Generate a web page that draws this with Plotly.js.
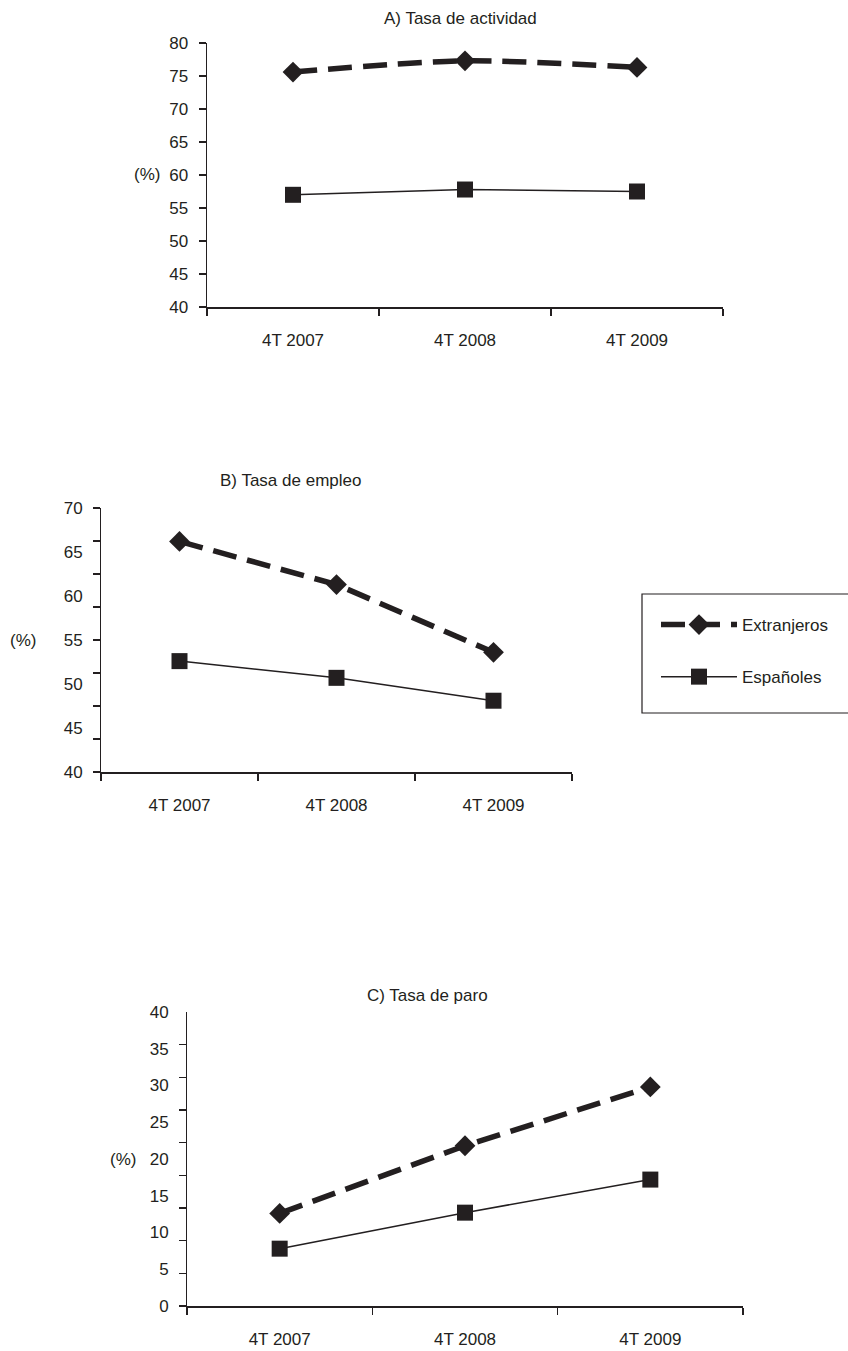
<!DOCTYPE html>
<html>
<head>
<meta charset="utf-8">
<script src="https://cdn.plot.ly/plotly-3.0.1.min.js"></script>
<style>
html,body{margin:0;padding:0;background:#fff;}
#chart{width:848px;height:1351px;}
</style>
</head>
<body>
<div id="chart"></div>
<script>
// ---- data ----
var categories = ['4T 2007', '4T 2008', '4T 2009'];
var seriesNames = ['Extranjeros', 'Españoles'];

var actividadExtranjeros = [75.6, 77.3, 76.3];
var actividadEspanoles   = [57.0, 57.8, 57.5];

var empleoExtranjeros = [66.2, 61.3, 53.6];
var empleoEspanoles   = [52.6, 50.7, 48.1];

var paroExtranjeros = [12.6, 21.8, 29.8];
var paroEspanoles   = [7.8, 12.7, 17.2];

var panelTitles = ['A) Tasa de actividad', 'B) Tasa de empleo', 'C) Tasa de paro'];
var unitLabel = '(%)';

var ticksA = [40, 45, 50, 55, 60, 65, 70, 75, 80];
var labelsB = [40, 45, 50, 55, 60, 65, 70];
var labelsC = [0, 5, 10, 15, 20, 25, 30, 35, 40];

// ---- styling ----
var ink = '#231f20';
var fontFam = '"Liberation Sans", Arial, sans-serif';
var W = 848, H = 1351;
function px(x){ return x / W; }
function py(y){ return 1 - y / H; }

var extLine = {color: ink, width: 5.5, dash: '24px,11px'};
var espLine = {color: ink, width: 1.5};
var extMarker = {symbol: 'diamond', size: 16, color: ink};
var espMarker = {symbol: 'square', size: 16, color: ink};

function ext(y, xa, ya, show, shape) {
  return {x: categories, y: y, xaxis: xa, yaxis: ya, type: 'scatter', mode: 'lines+markers',
    name: seriesNames[0], legendgroup: 'ext', showlegend: show,
    line: Object.assign({}, extLine, shape ? {shape: shape, smoothing: 0.8} : {}),
    marker: extMarker, cliponaxis: false};
}
function esp(y, xa, ya, show) {
  return {x: categories, y: y, xaxis: xa, yaxis: ya, type: 'scatter', mode: 'lines+markers',
    name: seriesNames[1], legendgroup: 'esp', showlegend: show,
    line: espLine, marker: espMarker, cliponaxis: false};
}

// tick mark positions (unlabelled) for panels B and C, derived from the label range
function evenTicks(lo, hi, n, includeTop) {
  var out = [];
  var last = includeTop ? n : n - 1;
  for (var k = 0; k <= last; k++) out.push(lo + (hi - lo) * k / n);
  return out;
}
var tickMarksB = evenTicks(40, 70, 8, true);
var tickMarksC = evenTicks(0, 40, 9, false);

var traces = [
  ext(actividadExtranjeros, 'x', 'y', true, 'spline'),
  esp(actividadEspanoles, 'x', 'y', true),
  ext(empleoExtranjeros, 'x2', 'y2', false),
  esp(empleoEspanoles, 'x2', 'y2', false),
  ext(paroExtranjeros, 'x3', 'y3', false),
  esp(paroEspanoles, 'x3', 'y3', false),
  {x: [], y: [], xaxis: 'x2', yaxis: 'y4', type: 'scatter', showlegend: false, hoverinfo: 'skip'},
  {x: [], y: [], xaxis: 'x3', yaxis: 'y5', type: 'scatter', showlegend: false, hoverinfo: 'skip'}
];

var tickFont = {family: fontFam, size: 17, color: ink};

function xAxis(domain, anchor) {
  return {domain: domain, anchor: anchor, type: 'category', categoryorder: 'array',
    categoryarray: categories, range: [-0.5, 2.5], tickson: 'boundaries',
    showline: true, linecolor: ink, linewidth: 1.5, ticks: 'outside', ticklen: 7,
    tickwidth: 1.5, tickcolor: ink, showgrid: false, zeroline: false,
    tickfont: tickFont, ticklabelstandoff: 17, fixedrange: true};
}
function yAxis(domain, anchor, range, tickvals, showLabels) {
  return {domain: domain, anchor: anchor, range: range, tickmode: 'array',
    tickvals: tickvals, ticktext: tickvals.map(String), showticklabels: showLabels,
    showline: true, linecolor: ink, linewidth: 1.5, ticks: 'outside', ticklen: 7,
    tickwidth: 1.5, tickcolor: ink, showgrid: false, zeroline: false,
    tickfont: tickFont, ticklabelstandoff: 7, fixedrange: true};
}
function labelAxis(overlay, anchor, range, tickvals) {
  return {overlaying: overlay, anchor: anchor, side: 'left', range: range, tickmode: 'array',
    tickvals: tickvals, ticktext: tickvals.map(String), showline: false,
    ticks: 'outside', ticklen: 7, tickcolor: 'rgba(0,0,0,0)', showgrid: false, zeroline: false,
    tickfont: tickFont, ticklabelstandoff: 7, fixedrange: true};
}

var domXA = [px(207), px(723)], domYA = [py(307), py(43)];
var domXB = [px(101), px(572)], domYB = [py(772), py(508)];
var domXC = [px(187), px(743)], domYC = [py(1306), py(1012)];

var titleFont = {family: fontFam, size: 17, color: ink};

var layout = {
  width: W, height: H,
  margin: {l: 0, r: 0, t: 0, b: 0, pad: 0},
  paper_bgcolor: '#ffffff', plot_bgcolor: 'rgba(0,0,0,0)',
  font: {family: fontFam, color: ink, size: 17},
  showlegend: true,
  legend: {x: px(656), y: py(607), xanchor: 'left', yanchor: 'top',
    traceorder: 'grouped', tracegroupgap: 27, itemwidth: 76,
    bgcolor: 'rgba(0,0,0,0)', borderwidth: 0,
    font: {family: fontFam, size: 17, color: ink}},
  xaxis: xAxis(domXA, 'y'),
  yaxis: yAxis(domYA, 'x', [40, 80], ticksA, true),
  xaxis2: xAxis(domXB, 'y2'),
  yaxis2: yAxis(domYB, 'x2', [40, 70], tickMarksB, false),
  yaxis4: labelAxis('y2', 'x2', [40, 70], labelsB),
  xaxis3: xAxis(domXC, 'y3'),
  yaxis3: yAxis(domYC, 'x3', [0, 40], tickMarksC, false),
  yaxis5: labelAxis('y3', 'x3', [0, 40], labelsC),
  shapes: [
    {type: 'rect', xref: 'paper', yref: 'paper', x0: px(642), x1: px(860),
     y0: py(713), y1: py(594), line: {color: ink, width: 1.2}, fillcolor: 'rgba(0,0,0,0)'}
  ],
  annotations: [
    {text: panelTitles[0], xref: 'paper', yref: 'paper', x: px(460), y: py(18),
     xanchor: 'center', yanchor: 'middle', showarrow: false, font: titleFont},
    {text: panelTitles[1], xref: 'paper', yref: 'paper', x: px(290), y: py(480),
     xanchor: 'center', yanchor: 'middle', showarrow: false, font: titleFont},
    {text: panelTitles[2], xref: 'paper', yref: 'paper', x: px(427), y: py(995),
     xanchor: 'center', yanchor: 'middle', showarrow: false, font: titleFont},
    {text: unitLabel, xref: 'paper', yref: 'y', x: px(162), y: 60,
     xanchor: 'right', yanchor: 'middle', showarrow: false, font: titleFont},
    {text: unitLabel, xref: 'paper', yref: 'y2', x: px(8), y: 55,
     xanchor: 'left', yanchor: 'middle', showarrow: false, font: titleFont},
    {text: unitLabel, xref: 'paper', yref: 'y3', x: px(138), y: 20,
     xanchor: 'right', yanchor: 'middle', showarrow: false, font: titleFont}
  ]
};

Plotly.newPlot('chart', traces, layout, {displayModeBar: false, staticPlot: true});
</script>
</body>
</html>
